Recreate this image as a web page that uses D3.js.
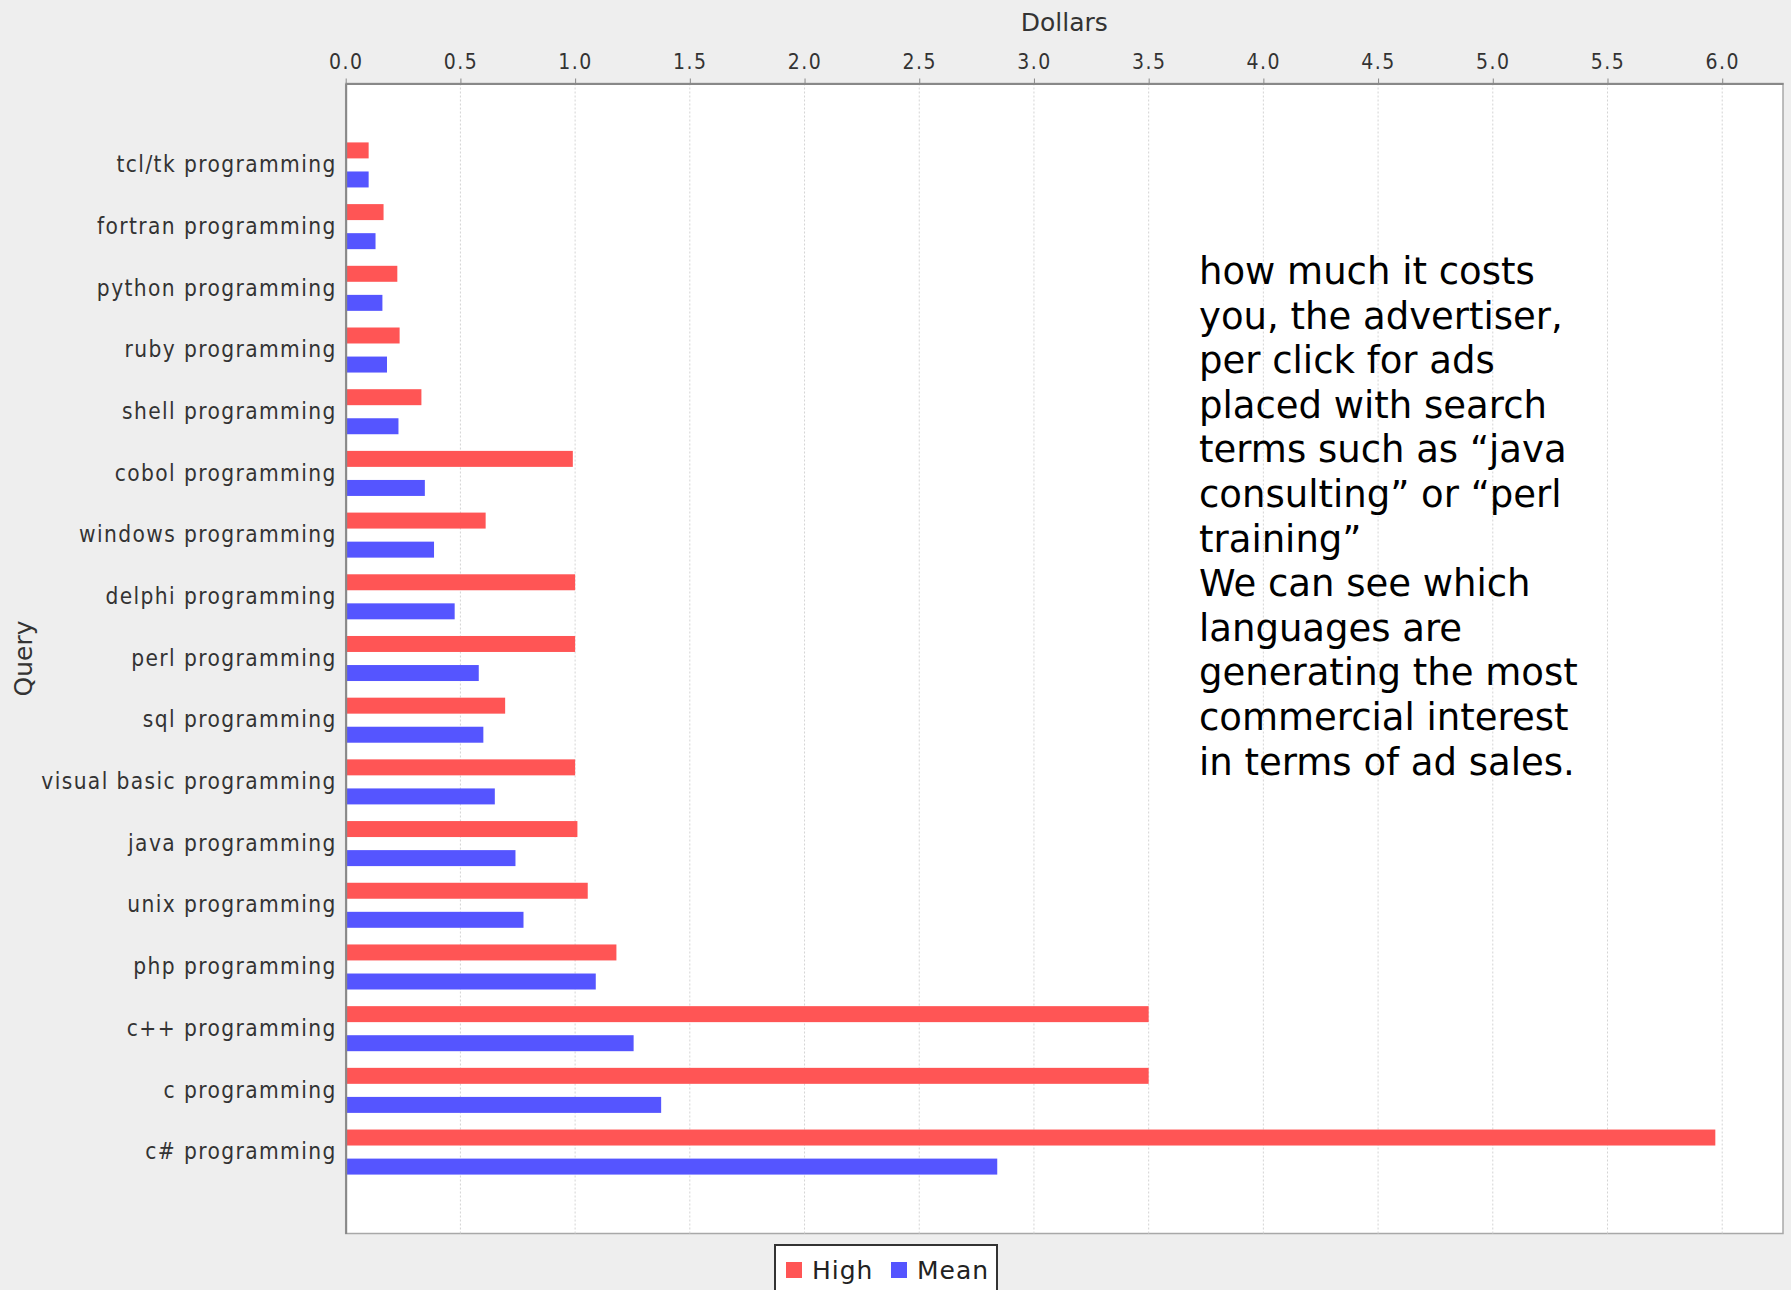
<!DOCTYPE html>
<html>
<head>
<meta charset="utf-8">
<script src="https://cdn.jsdelivr.net/npm/d3@7"></script>
<style>
  body { margin: 0; background: #eeeeee; }
  svg { display: block; }
</style>
</head>
<body>
<div id="chart"></div>
<script>
// categories top to bottom, as in the picture
var categories = ["tcl/tk programming", "fortran programming", "python programming", "ruby programming",
    "shell programming", "cobol programming", "windows programming", "delphi programming",
    "perl programming", "sql programming", "visual basic programming", "java programming",
    "unix programming", "php programming", "c++ programming", "c programming", "c# programming"];

var highValues = [0.10, 0.165, 0.225, 0.235, 0.33, 0.99, 0.61, 1.0, 1.0, 0.695, 1.0, 1.01, 1.055, 1.18, 3.5, 3.5, 5.97];
var meanValues = [0.10, 0.13, 0.16, 0.18, 0.23, 0.345, 0.385, 0.475, 0.58, 0.60, 0.65, 0.74, 0.775, 1.09, 1.255, 1.375, 2.84];

var seriesNames = ["High", "Mean"];
var seriesColors = ["#ff5555", "#5555ff"];
var xTickValues = [0, 0.5, 1.0, 1.5, 2.0, 2.5, 3.0, 3.5, 4.0, 4.5, 5.0, 5.5, 6.0];

var note = ["how much it costs", "you, the advertiser,", "per click for ads", "placed with search",
    "terms such as \u201cjava", "consulting\u201d or \u201cperl", "training\u201d", "We can see which",
    "languages are", "generating the most", "commercial interest", "in terms of ad sales."];

var W = 1791, H = 1290;
// plot box (window.top is taken, so prefixed names)
var plotL = 345.7, plotR = 1783, plotT = 83.5, plotB = 1233.5;

var svg = d3.select("#chart").append("svg")
    .attr("width", W)
    .attr("height", H);

svg.append("rect").attr("width", W).attr("height", H).attr("fill", "#eeeeee");

var x = d3.scaleLinear().domain([0, 6.265]).range([plotL, plotR]);

var y = d3.scaleBand()
    .domain(categories)
    .range([plotT, plotB])
    .paddingInner(0.27)
    .paddingOuter(0.955);

var ySub = d3.scaleBand()
    .domain(seriesNames)
    .range([0, y.bandwidth()])
    .paddingInner(0.45);

// plot background
svg.append("rect")
    .attr("x", plotL).attr("y", plotT)
    .attr("width", plotR - plotL).attr("height", plotB - plotT)
    .attr("fill", "#ffffff")
    .attr("stroke", "#a8a8a8")
    .attr("stroke-width", 1.5);

// grid
svg.append("g").selectAll("line")
    .data(xTickValues.slice(1))
    .enter().append("line")
    .attr("x1", function (d) { return x(d); })
    .attr("x2", function (d) { return x(d); })
    .attr("y1", plotT)
    .attr("y2", plotB)
    .attr("stroke", "#d4d4d4")
    .attr("stroke-width", 1)
    .attr("stroke-dasharray", "2,2");

// bars
var rows = svg.append("g").selectAll("g")
    .data(categories)
    .enter().append("g")
    .attr("transform", function (d) { return "translate(0," + y(d) + ")"; });

rows.selectAll("rect")
    .data(function (d, i) { return [highValues[i], meanValues[i]]; })
    .enter().append("rect")
    .attr("x", x(0))
    .attr("y", function (d, j) { return ySub(seriesNames[j]); })
    .attr("width", function (d) { return x(d) - x(0); })
    .attr("height", ySub.bandwidth())
    .attr("fill", function (d, j) { return seriesColors[j]; });

// top axis
var xAxis = d3.axisTop(x)
    .tickValues(xTickValues)
    .tickFormat(d3.format(".1f"))
    .tickSizeInner(5)
    .tickSizeOuter(0)
    .tickPadding(10);

var gx = svg.append("g")
    .attr("transform", "translate(0," + plotT + ")")
    .call(xAxis);
gx.select(".domain").attr("stroke", "#888888").attr("stroke-width", 2);
gx.selectAll(".tick line").attr("stroke", "#888888");
gx.selectAll(".tick text")
    .attr("fill", "#333333")
    .style("font-family", "'DejaVu Sans Condensed', 'DejaVu Sans', sans-serif")
    .style("font-size", "21px")
    .style("letter-spacing", "1.5px");

// left axis
var yAxis = d3.axisLeft(y).tickSize(0).tickPadding(9);
var gy = svg.append("g")
    .attr("transform", "translate(" + plotL + ",0)")
    .call(yAxis);
gy.select(".domain").attr("stroke", "#888888").attr("stroke-width", 2);
gy.selectAll(".tick text")
    .attr("fill", "#333333")
    .style("font-family", "'DejaVu Sans Condensed', 'DejaVu Sans', sans-serif")
    .style("font-size", "22.5px")
    .style("letter-spacing", "1.4px");

// axis titles
svg.append("text")
    .attr("x", (plotL + plotR) / 2)
    .attr("y", 31)
    .attr("text-anchor", "middle")
    .attr("fill", "#333333")
    .style("font-family", "'DejaVu Sans', sans-serif")
    .style("font-size", "25px")
    .text("Dollars");

svg.append("text")
    .attr("transform", "translate(32," + ((plotT + plotB) / 2) + ") rotate(-90)")
    .attr("text-anchor", "middle")
    .attr("fill", "#333333")
    .style("font-family", "'DejaVu Sans', sans-serif")
    .style("font-size", "25px")
    .text("Query");

// note text
svg.append("g").selectAll("text")
    .data(note)
    .enter().append("text")
    .attr("x", 1199)
    .attr("y", function (d, i) { return 284 + i * 44.6; })
    .attr("fill", "#000000")
    .style("font-family", "'DejaVu Sans', sans-serif")
    .style("font-size", "37px")
    .text(function (d) { return d; });

// legend
var legend = svg.append("g");
legend.append("rect")
    .attr("x", 775).attr("y", 1245)
    .attr("width", 222).attr("height", 70)
    .attr("fill", "#ffffff")
    .attr("stroke", "#333333")
    .attr("stroke-width", 2);

var legendX = [786, 891];
var items = legend.selectAll("g.item")
    .data(seriesNames)
    .enter().append("g")
    .attr("class", "item")
    .attr("transform", function (d, i) { return "translate(" + legendX[i] + ",1262)"; });
items.append("rect")
    .attr("width", 16).attr("height", 16)
    .attr("fill", function (d, i) { return seriesColors[i]; });
items.append("text")
    .attr("x", 26).attr("y", 17)
    .attr("fill", "#222222")
    .style("font-family", "'DejaVu Sans', sans-serif")
    .style("font-size", "25px")
    .style("letter-spacing", "1px")
    .text(function (d) { return d; });
</script>
</body>
</html>
